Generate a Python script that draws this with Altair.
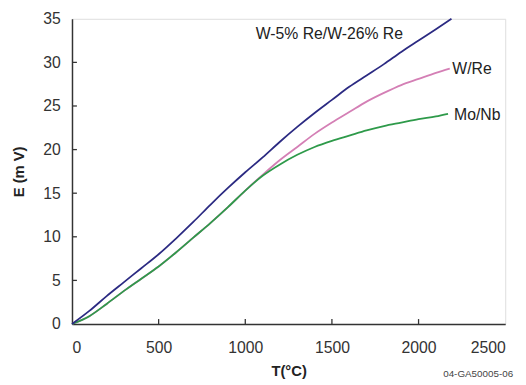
import altair as alt
import pandas as pd

# ---- data ----
T_blue = [0, 100, 200, 300, 400, 500, 600, 700, 800, 900, 1000, 1100, 1200, 1300,
          1400, 1500, 1600, 1700, 1800, 1900, 2000, 2100, 2190]
E_blue = [0, 1.5, 3.2, 4.8, 6.4, 8.0, 9.8, 11.7, 13.7, 15.6, 17.4, 19.1, 20.9, 22.6,
          24.2, 25.7, 27.2, 28.5, 29.8, 31.2, 32.5, 33.8, 35.0]

T_green = [0, 100, 200, 300, 400, 500, 600, 700, 800, 900, 1000, 1100, 1200, 1300,
           1400, 1500, 1600, 1700, 1800, 1900, 2000, 2100, 2170]
E_green = [0, 0.9, 2.3, 3.8, 5.2, 6.6, 8.2, 9.9, 11.6, 13.4, 15.3, 17.0, 18.3, 19.4,
           20.3, 21.0, 21.6, 22.2, 22.7, 23.1, 23.5, 23.8, 24.1]

T_pink = [0, 100, 200, 300, 400, 500, 600, 700, 800, 900, 1000, 1100, 1200, 1300,
          1400, 1500, 1600, 1700, 1800, 1900, 2000, 2100, 2180]
E_pink = [0, 0.9, 2.3, 3.8, 5.2, 6.6, 8.2, 9.9, 11.6, 13.4, 15.3, 17.1, 18.8, 20.3,
          21.8, 23.1, 24.3, 25.5, 26.5, 27.4, 28.1, 28.8, 29.3]

series_names = ["W/Re", "Mo/Nb", "W-5% Re/W-26% Re"]
series_colors = ["#d47fb5", "#2e9a4a", "#2b2a82"]

label_text = ["W-5% Re/W-26% Re", "W/Re", "Mo/Nb"]
label_T = [1060, 2195, 2205]
label_E = [33.2, 29.2, 24.0]

x_ticks = [0, 500, 1000, 1500, 2000, 2500]
y_ticks = [0, 5, 10, 15, 20, 25, 30, 35]

# ---- tables ----
rows = []
for name, Ts, Es in [("W/Re", T_pink, E_pink), ("Mo/Nb", T_green, E_green),
                     ("W-5% Re/W-26% Re", T_blue, E_blue)]:
    for i, (t, e) in enumerate(zip(Ts, Es)):
        rows.append({"series": name, "T": t, "E": e, "i": i})
df = pd.DataFrame(rows)
labels = pd.DataFrame({"text": label_text, "T": label_T, "E": label_E})
xt = pd.DataFrame({"T": x_ticks[1:-1]})
yt = pd.DataFrame({"E": y_ticks[1:-1]})

W, H = 440, 310
FONT = "Liberation Sans"

xscale = alt.Scale(domain=[0, 2500], nice=False)
yscale = alt.Scale(domain=[0, 35], nice=False)

xaxis = alt.Axis(values=x_ticks, format="d", title="T(°C)", tickSize=0, labelPadding=16,
                 labelFontSize=16, labelColor="#333333", titleFontSize=15,
                 titleFontWeight="bold", titlePadding=8, titleColor="#222222",
                 domainColor="#333333", domainWidth=1.5, grid=False, labelFont=FONT,
                 titleFont=FONT)
yaxis = alt.Axis(values=y_ticks, format="d", title="E (m V)", tickSize=0, labelPadding=12,
                 labelFontSize=16, labelColor="#333333", titleFontSize=15,
                 titleFontWeight="bold", titlePadding=16, titleColor="#222222",
                 domainColor="#333333", domainWidth=1.5, grid=False, labelFont=FONT,
                 titleFont=FONT)

lines = alt.Chart(df).mark_line(strokeWidth=1.8, interpolate="monotone").encode(
    x=alt.X("T:Q", scale=xscale, axis=xaxis),
    y=alt.Y("E:Q", scale=yscale, axis=yaxis),
    color=alt.Color("series:N", scale=alt.Scale(domain=series_names, range=series_colors),
                    legend=None),
    order="i:Q",
    detail="series:N",
)

text = alt.Chart(labels).mark_text(align="left", baseline="middle", fontSize=16,
                                   font=FONT, color="#222222").encode(
    x=alt.X("T:Q", scale=xscale), y=alt.Y("E:Q", scale=yscale), text="text:N")

xtick = alt.Chart(xt).mark_rule(color="#333333", strokeWidth=1.3).encode(
    x=alt.X("T:Q", scale=xscale), y=alt.value(H), y2=alt.value(H - 5))
ytick = alt.Chart(yt).mark_rule(color="#333333", strokeWidth=1.3).encode(
    y=alt.Y("E:Q", scale=yscale), x=alt.value(0), x2=alt.value(5))

code = alt.Chart(pd.DataFrame({"t": ["04-GA50005-06"]})).mark_text(
    align="left", baseline="middle", fontSize=10, font=FONT, color="#444444").encode(
    x=alt.value(377), y=alt.value(361), text="t:N")

chart = alt.layer(lines, xtick, ytick, text, code).properties(
    width=W, height=H,
    autosize=alt.AutoSizeParams(type="none"),
    padding={"left": 65, "top": 8, "right": 13, "bottom": 59},
).configure_view(stroke="#333333", strokeWidth=1.5).configure(background="white")

chart.save("out.html", embed_options={"renderer": "svg", "actions": False})
